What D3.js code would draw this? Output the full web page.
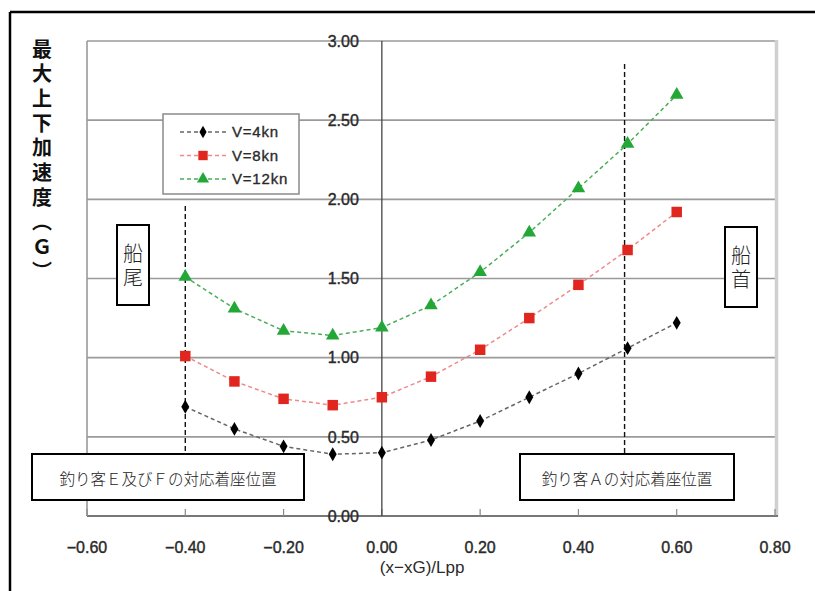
<!DOCTYPE html>
<html>
<head>
<meta charset="utf-8">
<script src="https://cdn.jsdelivr.net/npm/d3@7"></script>
<style>
  body { margin: 0; background: #fff; }
  svg { display: block; }
</style>
</head>
<body>
<div id="chart"></div>
<script>
// positions along the hull, (x-xG)/Lpp
var xs = [-0.4, -0.3, -0.2, -0.1, 0.0, 0.1, 0.2, 0.3, 0.4, 0.5, 0.6];
var v4 = [0.69, 0.55, 0.44, 0.39, 0.40, 0.48, 0.60, 0.75, 0.90, 1.06, 1.22];
var v8 = [1.01, 0.85, 0.74, 0.70, 0.75, 0.88, 1.05, 1.25, 1.46, 1.68, 1.92];
var v12 = [1.51, 1.31, 1.17, 1.14, 1.19, 1.33, 1.54, 1.79, 2.07, 2.35, 2.66];
var seriesNames = ["V=4kn", "V=8kn", "V=12kn"];
var xTicks = [-0.6, -0.4, -0.2, 0.0, 0.2, 0.4, 0.6, 0.8];
var yTicks = [0, 0.5, 1.0, 1.5, 2.0, 2.5, 3.0];
var seatSternX = -0.4, seatBowX = 0.5;

var W = 815, H = 591;
var svg = d3.select("#chart").append("svg").attr("width", W).attr("height", H);

var x = d3.scaleLinear().domain([-0.6, 0.8]).range([87, 775]);
var y = d3.scaleLinear().domain([0, 3]).range([516, 41]);

var numFont = "'Liberation Sans', Arial, sans-serif";
var jpFont = "'Noto Sans CJK JP', sans-serif";

// outer frame (only top and left visible)
svg.append("line").attr("x1", 10).attr("x2", W).attr("y1", 12).attr("y2", 12)
  .attr("stroke", "#000").attr("stroke-width", 2.5);
svg.append("line").attr("x1", 10).attr("x2", 10).attr("y1", 12).attr("y2", H)
  .attr("stroke", "#000").attr("stroke-width", 2.5);

// horizontal grid
svg.append("g").selectAll("line").data(yTicks.slice(1)).enter().append("line")
  .attr("x1", x(-0.6)).attr("x2", x(0.8))
  .attr("y1", function(d) { return y(d); }).attr("y2", function(d) { return y(d); })
  .attr("stroke", "#9a9a9a").attr("stroke-width", 1.6);

// plot border left / right
svg.append("line").attr("x1", x(-0.6)).attr("x2", x(-0.6)).attr("y1", y(3)).attr("y2", y(0))
  .attr("stroke", "#9a9a9a").attr("stroke-width", 1.6);
svg.append("line").attr("x1", x(0.8) + 1.5).attr("x2", x(0.8) + 1.5).attr("y1", y(3) - 1).attr("y2", y(0) + 1)
  .attr("stroke", "#cfcfcf").attr("stroke-width", 3.5);

// bottom axis with inward ticks
svg.append("line").attr("x1", x(-0.6)).attr("x2", x(0.8) + 3).attr("y1", y(0)).attr("y2", y(0))
  .attr("stroke", "#777").attr("stroke-width", 2);
svg.append("g").selectAll("line").data(xTicks).enter().append("line")
  .attr("x1", function(d) { return x(d); }).attr("x2", function(d) { return x(d); })
  .attr("y1", y(0)).attr("y2", y(0) - 7)
  .attr("stroke", "#888").attr("stroke-width", 1.2);

// y axis at x = 0
svg.append("line").attr("x1", x(0)).attr("x2", x(0)).attr("y1", y(3)).attr("y2", y(0))
  .attr("stroke", "#444").attr("stroke-width", 1.3);

// y tick labels
svg.append("g").selectAll("text").data(yTicks).enter().append("text")
  .attr("x", x(0) - 23).attr("y", function(d) { return y(d); })
  .attr("dy", "0.36em").attr("text-anchor", "end")
  .attr("font-family", numFont).attr("font-size", 16).attr("fill", "#2a2a2a")
  .attr("stroke", "#2a2a2a").attr("stroke-width", 0.4)
  .text(function(d) { return d.toFixed(2); });

// x tick labels
svg.append("g").selectAll("text").data(xTicks).enter().append("text")
  .attr("x", function(d) { return x(d); }).attr("y", 553)
  .attr("text-anchor", "middle")
  .attr("font-family", numFont).attr("font-size", 16).attr("fill", "#2a2a2a")
  .attr("stroke", "#2a2a2a").attr("stroke-width", 0.4)
  .text(function(d) { return (d < 0 ? "\u2212" : "") + Math.abs(d).toFixed(2); });

// x axis title
svg.append("text").attr("x", x(0) - 2).attr("y", 573)
  .attr("font-family", numFont).attr("font-size", 17).attr("fill", "#2a2a2a")
  .text("(x\u2212xG)/Lpp");

// y axis title, vertical writing
svg.append("text")
  .attr("x", 42).attr("y", 39)
  .attr("writing-mode", "vertical-rl")
  .style("writing-mode", "vertical-rl")
  .attr("letter-spacing", 4.7)
  .attr("font-family", jpFont).attr("font-weight", 700).attr("font-size", 20).attr("fill", "#111")
  .text("最大上下加速度（Ｇ）");

// seat position dashed verticals
svg.append("line").attr("x1", x(seatSternX)).attr("x2", x(seatSternX)).attr("y1", 206).attr("y2", 454)
  .attr("stroke", "#111").attr("stroke-width", 1.4).attr("stroke-dasharray", "5,3");
svg.append("line").attr("x1", x(seatBowX) - 3).attr("x2", x(seatBowX) - 3).attr("y1", 64).attr("y2", 454)
  .attr("stroke", "#111").attr("stroke-width", 1.4).attr("stroke-dasharray", "5,3");

// series
var series = [
  { name: seriesNames[0], vals: v4, line: "#666", fill: "#000", sym: d3.symbolDiamond, size: 55 },
  { name: seriesNames[1], vals: v8, line: "#ee8a8a", fill: "#e0261e", sym: d3.symbolSquare, size: 110 },
  { name: seriesNames[2], vals: v12, line: "#4cae58", fill: "#23a838", sym: d3.symbolTriangle, size: 80 }
];

var line = d3.line().x(function(d) { return x(d[0]); }).y(function(d) { return y(d[1]); });

series.forEach(function(s) {
  var pts = xs.map(function(xv, i) { return [xv, s.vals[i]]; });
  svg.append("path").datum(pts).attr("d", line)
    .attr("fill", "none").attr("stroke", s.line).attr("stroke-width", 1.5)
    .attr("stroke-dasharray", "4,3");
  svg.append("g").selectAll("path").data(pts).enter().append("path")
    .attr("d", d3.symbol().type(s.sym).size(s.size))
    .attr("transform", function(d) { return "translate(" + x(d[0]) + "," + y(d[1]) + ")"; })
    .attr("fill", s.fill);
});

// legend
var lg = svg.append("g").attr("transform", "translate(163,114)");
lg.append("rect").attr("width", 136).attr("height", 80)
  .attr("fill", "#fff").attr("stroke", "#8a8a8a").attr("stroke-width", 1.5);
series.forEach(function(s, i) {
  var ry = 18 + i * 23.5;
  lg.append("line").attr("x1", 17).attr("x2", 64).attr("y1", ry).attr("y2", ry)
    .attr("stroke", s.line).attr("stroke-width", 1.5).attr("stroke-dasharray", "4,3");
  lg.append("path").attr("d", d3.symbol().type(s.sym).size(s.size * 0.8))
    .attr("transform", "translate(40," + ry + ")").attr("fill", s.fill);
  lg.append("text").attr("x", 69).attr("y", ry).attr("dy", "0.36em")
    .attr("font-family", numFont).attr("font-size", 15).attr("letter-spacing", 0.8)
    .attr("fill", "#2a2a2a").attr("stroke", "#2a2a2a").attr("stroke-width", 0.35)
    .text(s.name);
});

// annotation boxes
function vBox(x0, y0, chars) {
  svg.append("rect").attr("x", x0).attr("y", y0).attr("width", 32).attr("height", 80)
    .attr("fill", "#fff").attr("stroke", "#000").attr("stroke-width", 2);
  svg.append("text").attr("x", x0 + 16).attr("y", y0 + 18)
    .attr("writing-mode", "vertical-rl").style("writing-mode", "vertical-rl")
    .attr("letter-spacing", 4)
    .attr("font-family", jpFont).attr("font-weight", 300)
    .attr("font-size", 20).attr("fill", "#222").text(chars);
}
vBox(117, 225, "船尾");
vBox(725, 227, "船首");

function hBox(x0, w, label) {
  svg.append("rect").attr("x", x0).attr("y", 454).attr("width", w).attr("height", 46)
    .attr("fill", "#fff").attr("stroke", "#000").attr("stroke-width", 2);
  svg.append("text").attr("x", x0 + w / 2).attr("y", 483).attr("dy", "0.1em")
    .attr("text-anchor", "middle").attr("font-family", jpFont).attr("font-weight", 300)
    .attr("font-size", 15.5).attr("fill", "#222").text(label);
}
hBox(32, 272, "釣り客Ｅ及びＦの対応着座位置");
hBox(520, 214, "釣り客Ａの対応着座位置");
</script>
</body>
</html>
